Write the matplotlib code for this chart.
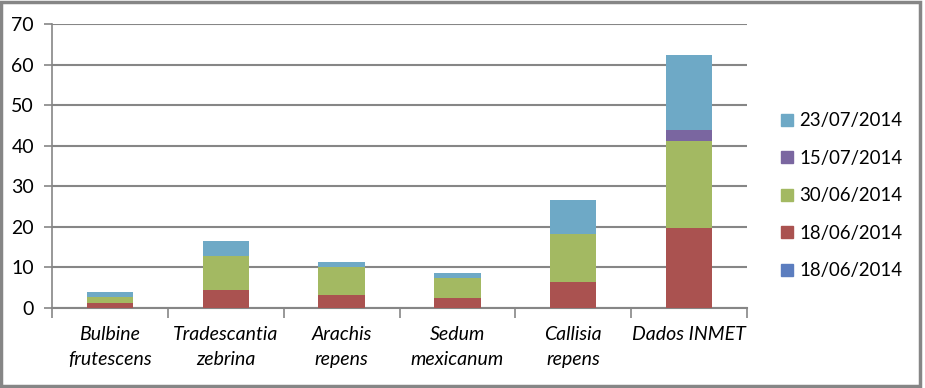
import matplotlib
matplotlib.use("Agg")
import matplotlib.pyplot as plt
import numpy as np
from matplotlib.patches import Rectangle

categories = ["Bulbine\nfrutescens", "Tradescantia\nzebrina", "Arachis\nrepens",
              "Sedum\nmexicanum", "Callisia\nrepens", "Dados INMET"]
series_names = ["18/06/2014", "18/06/2014", "30/06/2014", "15/07/2014", "23/07/2014"]
s1 = [0, 0, 0, 0, 0, 0]
s2 = [1.35, 4.5, 3.3, 2.5, 6.3, 19.8]
s3 = [1.25, 8.4, 6.8, 4.8, 12.0, 21.3]
s4 = [0, 0, 0, 0, 0, 2.7]
s5 = [1.27, 3.7, 1.25, 1.3, 8.2, 18.5]
colors = ["#5B7DBF", "#AA5250", "#A3B962", "#7A66A0", "#6EA9C6"]

plt.rcParams['font.family'] = ['Lato', 'DejaVu Sans']

fig = plt.figure(figsize=(9.25, 3.88), dpi=100)
ax = fig.add_axes([52/925, 1-308/388, (747-52)/925, (308-24)/388])

x = np.arange(len(categories))
bottom = np.zeros(len(categories))
handles = []
for vals, col, name in zip([s1, s2, s3, s4, s5], colors, series_names):
    v = np.array(vals, dtype=float)
    ax.bar(x, v, width=0.4, bottom=bottom, color=col, zorder=3)
    bottom += v
    handles.append(Rectangle((0, 0), 1, 1, color=col, label=name))

ax.set_xlim(-0.5, len(categories) - 0.5)
ax.set_ylim(0, 70)
ax.set_yticks(np.arange(0, 71, 10))
ax.yaxis.grid(True, color="#868686", linewidth=1.5, zorder=0)
ax.set_axisbelow(True)
for side in ["top", "right"]:
    ax.spines[side].set_visible(False)
ax.spines["left"].set_color("#868686")
ax.spines["bottom"].set_color("#868686")
ax.spines["left"].set_linewidth(1.2)
ax.spines["bottom"].set_linewidth(1.5)

ax.set_xticks(np.arange(-0.5, len(categories)), minor=False)
ax.set_xticklabels([])
ax.set_xticks(x, minor=True)
ax.set_xticklabels(categories, minor=True, fontsize=14, style="italic", color="#000000",
                   linespacing=1.55)
ax.tick_params(axis="x", which="major", length=7, width=1.2, color="#868686")
ax.tick_params(axis="x", which="minor", length=0, pad=13)
ax.tick_params(axis="y", length=6, width=1.2, color="#868686", labelsize=14, pad=7)

leg = fig.legend(handles=handles[::-1], labels=series_names[::-1],
                 loc="upper left", bbox_to_anchor=(774/925, 1-105/388),
                 frameon=False, fontsize=13.4, handlelength=0.62, handleheight=0.62,
                 handletextpad=0.35, labelspacing=1.1, borderaxespad=0)

border = Rectangle((0.001, 0.006), 0.994, 0.99, transform=fig.transFigure,
                   fill=False, edgecolor="#868686", linewidth=2.5)
fig.add_artist(border)

fig.savefig("out.png", dpi=100)
